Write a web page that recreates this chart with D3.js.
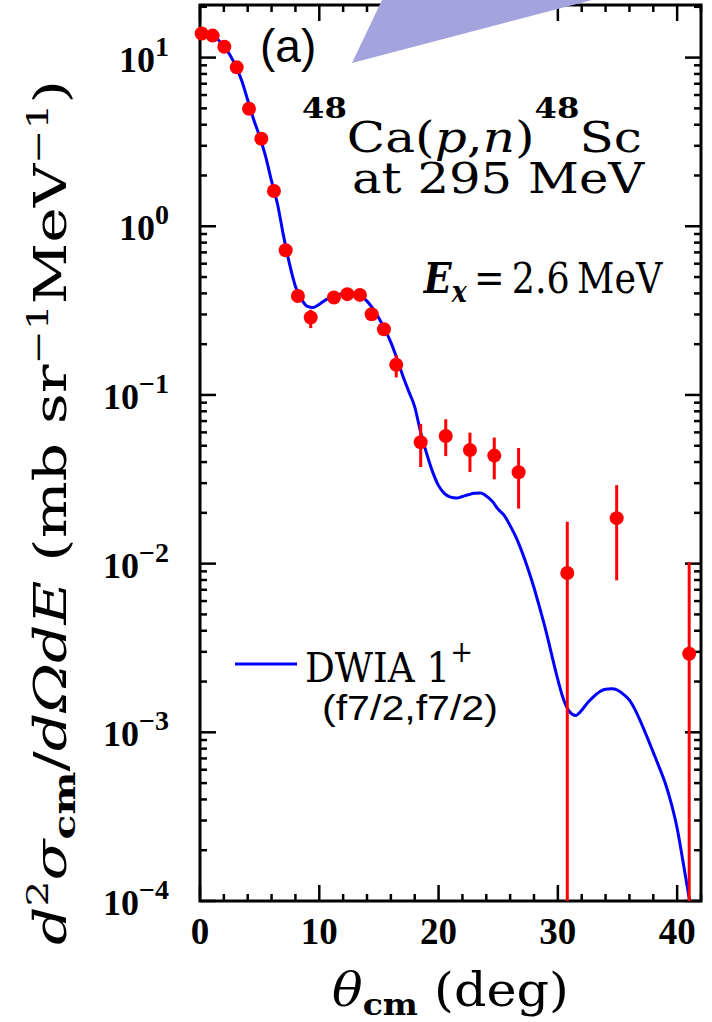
<!DOCTYPE html>
<html>
<head>
<meta charset="utf-8">
<script src="https://cdn.jsdelivr.net/npm/d3@7"></script>
<style>
  body { margin: 0; background: #fff; }
  svg { display: block; }
</style>
</head>
<body>
<script>
// measured points: angle (deg), cross section, error bar low / high
const pointTheta = [0.14, 1.06, 2.04, 3.08, 4.11, 5.14, 6.20, 7.18, 8.21, 9.28, 11.23, 12.35, 13.41, 14.39, 15.42, 16.45, 18.50, 20.60, 22.63, 24.67, 26.71, 30.79, 34.93, 41.01];
const pointSigma = [13.9, 13.5, 11.6, 8.75, 4.97, 3.30, 1.62, 0.721, 0.386, 0.288, 0.378, 0.396, 0.392, 0.301, 0.245, 0.151, 0.0524, 0.0571, 0.0472, 0.0437, 0.0348, 0.0088, 0.0186, 0.00292];
const pointLow   = [13.3, 12.9, 11.1, 8.35, 4.75, 3.15, 1.55, 0.69, 0.37, 0.249, 0.36, 0.38, 0.375, 0.285, 0.23, 0.127, 0.0374, 0.0434, 0.0349, 0.0316, 0.0212, 1e-6, 0.00796, 1e-6];
const pointHigh  = [14.5, 14.1, 12.1, 9.15, 5.2, 3.45, 1.69, 0.75, 0.40, 0.32, 0.395, 0.41, 0.41, 0.315, 0.26, 0.172, 0.0673, 0.0718, 0.0598, 0.0559, 0.0485, 0.0177, 0.0292, 0.0102];

// DWIA 1+ curve
const curveTheta = [0, 0.5, 1, 1.5, 2, 2.5, 3, 3.5, 4, 4.5, 5, 5.5, 6, 6.5, 7, 7.5, 8, 8.5, 9, 9.5, 10, 10.5, 11, 11.5, 12, 12.5, 13, 13.5, 14, 14.5, 15, 15.5, 16, 16.5, 17, 17.5, 18, 18.5, 19, 19.5, 20, 20.5, 21, 21.5, 22, 22.5, 23, 23.5, 24, 24.5, 25, 25.5, 26, 26.5, 27, 27.5, 28, 28.5, 29, 29.5, 30, 30.5, 31, 31.5, 32, 32.5, 33, 33.5, 34, 34.5, 35, 35.5, 36, 36.5, 37, 37.5, 38, 38.5, 39, 39.5, 40, 40.5, 41, 41.3];
const curveSigma = [14.2, 14.0, 13.5, 12.8, 11.7, 10.4, 8.9, 7.3, 5.6, 4.3, 3.4, 2.6, 1.85, 1.35, 0.88, 0.6, 0.44, 0.37, 0.335, 0.33, 0.345, 0.365, 0.38, 0.39, 0.40, 0.405, 0.40, 0.385, 0.36, 0.325, 0.285, 0.245, 0.205, 0.165, 0.13, 0.105, 0.085, 0.06, 0.045, 0.035, 0.029, 0.026, 0.0248, 0.0245, 0.025, 0.0256, 0.0261, 0.0262, 0.0252, 0.0234, 0.021, 0.0193, 0.0168, 0.0143, 0.0117, 0.0093, 0.0072, 0.0054, 0.0040, 0.00285, 0.00205, 0.00155, 0.00132, 0.00126, 0.00135, 0.0015, 0.00163, 0.00174, 0.0018, 0.00181, 0.00178, 0.00168, 0.00155, 0.00135, 0.00113, 0.00093, 0.00076, 0.00062, 0.0005, 0.00038, 0.00027, 0.00017, 0.000105, 0.00008];

const xTicksMajor = [0, 10, 20, 30, 40];
const yDecades = [-4, -3, -2, -1, 0, 1];

const W = 712, H = 1022;
const plotL = 200, plotR = 701, plotT = 5, plotB = 901;
const serif = "'DejaVu Serif', serif";
const tickFont = "'Liberation Serif', serif";

const svg = d3.select("body").append("svg").attr("width", W).attr("height", H);

const x = d3.scaleLinear().domain([0, 42]).range([plotL, plotR]);
const y = d3.scaleLog().domain([1e-4, 20.5]).range([plotB, plotT]);

svg.append("clipPath").attr("id", "plot-clip")
  .append("rect").attr("x", plotL).attr("y", plotT).attr("width", plotR - plotL).attr("height", plotB - plotT);

// place a text so its ink starts at px and spans width w
function fitText(g, px, py, w) {
  const t = g.select("text");
  const bb = t.node().getBBox();
  const k = w / bb.width;
  t.attr("transform", `scale(${k},1) translate(${-bb.x},0)`);
  g.attr("transform", `translate(${px},${py})`);
}

// ticks (inward on all four sides)
const ticks = svg.append("g").attr("stroke", "#000").attr("stroke-width", 2.5);
d3.range(0, 43, 2).forEach(v => {
  const len = v % 10 === 0 ? 16 : 7;
  ticks.append("line").attr("x1", x(v)).attr("x2", x(v)).attr("y1", plotB).attr("y2", plotB - len);
  ticks.append("line").attr("x1", x(v)).attr("x2", x(v)).attr("y1", plotT).attr("y2", plotT + len);
});
yDecades.forEach(d => {
  for (let m = 1; m <= 9; m++) {
    const v = m * Math.pow(10, d);
    if (v > y.domain()[1]) continue;
    const len = m === 1 ? 16 : 7;
    ticks.append("line").attr("x1", plotL).attr("x2", plotL + len).attr("y1", y(v)).attr("y2", y(v));
    ticks.append("line").attr("x1", plotR).attr("x2", plotR - len).attr("y1", y(v)).attr("y2", y(v));
  }
});

// frame
svg.append("rect").attr("x", plotL).attr("y", plotT).attr("width", plotR - plotL).attr("height", plotB - plotT)
  .attr("fill", "none").attr("stroke", "#000").attr("stroke-width", 3);

// x tick labels
svg.append("g").selectAll("text").data(xTicksMajor).join("text")
  .attr("x", d => x(d)).attr("y", 944)
  .attr("text-anchor", "middle")
  .attr("font-family", tickFont).attr("font-weight", "bold").attr("font-size", 37)
  .text(d => d);

// y tick labels 10^n
yDecades.forEach(d => {
  const t = svg.append("text")
    .attr("x", 169).attr("y", y(Math.pow(10, d)) + 14)
    .attr("text-anchor", "end")
    .attr("font-family", tickFont).attr("font-weight", "bold").attr("font-size", 36);
  t.append("tspan").text("10");
  t.append("tspan").attr("dy", -16).attr("font-size", 28).text(d < 0 ? "\u2212" + (-d) : d);
});

// theory curve
const line = d3.line().x(d => x(d[0])).y(d => y(d[1])).curve(d3.curveMonotoneX);
svg.append("path")
  .datum(curveTheta.map((t, i) => [t, curveSigma[i]]))
  .attr("clip-path", "url(#plot-clip)")
  .attr("d", line)
  .attr("fill", "none").attr("stroke", "#0000ff").attr("stroke-width", 3);

// data points
const pts = pointTheta.map((t, i) => ({ t, s: pointSigma[i], lo: pointLow[i], hi: pointHigh[i] }));
svg.append("g").attr("clip-path", "url(#plot-clip)")
  .selectAll("line").data(pts).join("line")
  .attr("x1", d => x(d.t)).attr("x2", d => x(d.t))
  .attr("y1", d => y(Math.max(d.lo, 1e-5))).attr("y2", d => y(d.hi))
  .attr("stroke", "#ff0000").attr("stroke-width", 3);
svg.append("g").selectAll("circle").data(pts).join("circle")
  .attr("cx", d => x(d.t)).attr("cy", d => y(d.s)).attr("r", 7)
  .attr("fill", "#ff0000");

// legend
svg.append("line").attr("x1", 235).attr("x2", 297).attr("y1", 664).attr("y2", 664)
  .attr("stroke", "#0000ff").attr("stroke-width", 3);
const lg1 = svg.append("g");
const lt1 = lg1.append("text").attr("font-family", serif).attr("font-size", 41);
lt1.append("tspan").text("DWIA 1");
lt1.append("tspan").attr("dy", -20).attr("font-size", 30).text("+");
fitText(lg1, 305, 682, 168);
const lg2 = svg.append("g");
lg2.append("text").attr("font-family", "'Liberation Sans', sans-serif").attr("font-size", 36).text("(f7/2,f7/2)");
fitText(lg2, 322, 720, 176);

// panel label
svg.append("text").attr("x", 260).attr("y", 62)
  .attr("font-family", "'Liberation Sans', sans-serif").attr("font-size", 46).text("(a)");

// reaction title
const tg1 = svg.append("g");
const tt1 = tg1.append("text").attr("font-family", serif).attr("font-size", 42);
tt1.append("tspan").attr("font-size", 27).attr("font-weight", "bold").attr("dy", -34).text("48");
tt1.append("tspan").attr("dy", 34).text("Ca(");
tt1.append("tspan").attr("font-style", "italic").text("p");
tt1.append("tspan").text(",");
tt1.append("tspan").attr("font-style", "italic").text("n");
tt1.append("tspan").text(")");
tt1.append("tspan").attr("font-size", 27).attr("font-weight", "bold").attr("dy", -34).text("48");
tt1.append("tspan").attr("dy", 34).text("Sc");
fitText(tg1, 302, 152, 340);
const tg2 = svg.append("g");
tg2.append("text").attr("font-family", serif).attr("font-size", 42).text("at 295 MeV");
fitText(tg2, 352, 193, 293);

// excitation energy
const eg = svg.append("g");
const et = eg.append("text").attr("font-family", serif).attr("font-size", 42);
et.append("tspan").attr("font-style", "italic").attr("font-weight", "bold").text("E");
et.append("tspan").attr("font-style", "italic").attr("font-weight", "bold").attr("font-size", 29).attr("dy", 9).text("x");
et.append("tspan").attr("dy", -9).text("\u2009=\u20092.6\u2009MeV");
fitText(eg, 423, 293, 240);

// axis titles
const xg = svg.append("g");
const xt = xg.append("text").attr("font-family", serif).attr("font-size", 46);
xt.append("tspan").attr("font-style", "italic").text("\u03B8");
xt.append("tspan").attr("font-size", 30).attr("font-weight", "bold").attr("dy", 9).text("cm");
xt.append("tspan").attr("dy", -9).text(" (deg)");
fitText(xg, 332, 1006, 237);

const yg = svg.append("g");
const yt = yg.append("text").attr("font-family", serif).attr("font-size", 44);
yt.append("tspan").attr("font-style", "italic").text("d");
yt.append("tspan").attr("font-size", 30).attr("dy", -18).text("2");
yt.append("tspan").attr("font-style", "italic").attr("dy", 18).text("\u03C3");
yt.append("tspan").attr("font-size", 30).attr("font-weight", "bold").attr("dy", 9).text("cm");
yt.append("tspan").attr("dy", -9).text("/");
yt.append("tspan").attr("font-style", "italic").text("d\u03A9dE");
yt.append("tspan").text(" (mb sr");
yt.append("tspan").attr("font-size", 30).attr("dy", -18).text("\u22121");
yt.append("tspan").attr("dy", 18).text("MeV");
yt.append("tspan").attr("font-size", 30).attr("dy", -18).text("\u22121");
yt.append("tspan").attr("dy", 18).text(")");
fitText(yg, 0, 0, 865);
yg.attr("transform", "translate(66,945) rotate(-90)");

// shaded wedge from neighbouring panel, drawn over the frame
svg.append("polygon")
  .attr("points", [[352, 63], [382, 0], [592, 0]].map(p => p.join(",")).join(" "))
  .attr("fill", "#a3a3dd");
</script>
</body>
</html>
